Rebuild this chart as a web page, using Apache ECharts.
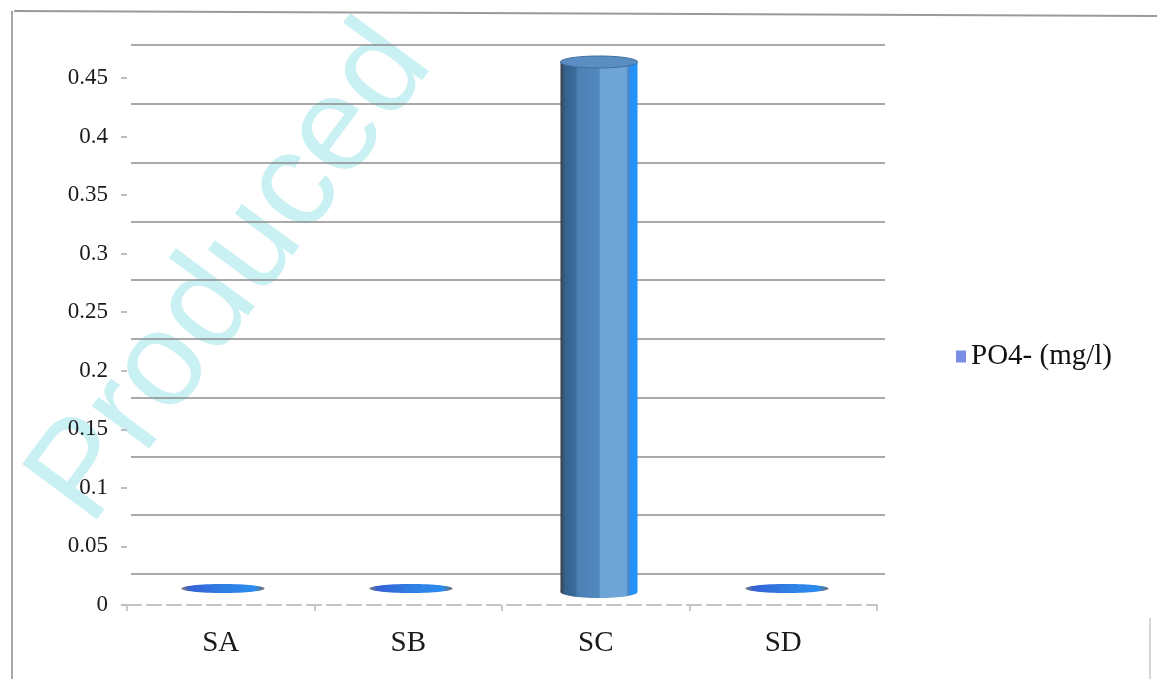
<!DOCTYPE html>
<html>
<head>
<meta charset="utf-8">
<script src="https://cdn.jsdelivr.net/npm/echarts@6/dist/echarts.min.js"></script>
<style>
  html, body { margin: 0; padding: 0; background: #fff; }
  #chart { width: 1157px; height: 679px; }
</style>
</head>
<body>
<div id="chart"></div>
<script>
// Phosphate concentration per sampling station
const categories = ['SA', 'SB', 'SC', 'SD'];
const po4Values = [0.003, 0.003, 0.45, 0.003];
const seriesName = 'PO4- (mg/l)';
const yMax = 0.45;
const yStep = 0.05;

const serif = '"Liberation Serif", "DejaVu Serif", serif';

const chart = echarts.init(document.getElementById('chart'));

// Cylinder drawn at mid depth of the 3D box
function renderCylinder(params, api) {
  const idx = api.value(0);
  const val = api.value(1);
  const base = api.coord([idx, 0]);
  const top = api.coord([idx, val]);
  const w = api.size([1, 0])[0] * 0.41;
  const cx = base[0];
  const x0 = cx - w / 2;
  const ry = 6;
  const h = base[1] - top[1];

  if (h < ry * 1.5) {
    // near-zero value: flat disc
    return {
      type: 'ellipse',
      shape: { cx: cx, cy: top[1], rx: w / 2 + 3, ry: 4.5 },
      style: {
        fill: new echarts.graphic.LinearGradient(0, 0, 1, 0, [
          { offset: 0, color: '#7a7a7a' },
          { offset: 0.1, color: '#3561d6' },
          { offset: 0.5, color: '#2f7fe4' },
          { offset: 0.88, color: '#2a8cee' },
          { offset: 1, color: '#6f6f6f' }
        ])
      }
    };
  }

  const bodyFill = new echarts.graphic.LinearGradient(0, 0, 1, 0, [
    { offset: 0, color: '#3a3f48' },
    { offset: 0.06, color: '#35628e' },
    { offset: 0.2, color: '#3b6c9c' },
    { offset: 0.22, color: '#4c80b4' },
    { offset: 0.5, color: '#5289bf' },
    { offset: 0.52, color: '#6fa4d6' },
    { offset: 0.85, color: '#6fa5d8' },
    { offset: 0.88, color: '#4f86bd' },
    { offset: 0.9, color: '#2a8ef2' },
    { offset: 1, color: '#2196ff' }
  ]);

  return {
    type: 'group',
    children: [
      {
        type: 'ellipse',
        shape: { cx: cx, cy: base[1], rx: w / 2, ry: ry },
        style: { fill: bodyFill }
      },
      {
        type: 'rect',
        shape: { x: x0, y: top[1], width: w, height: h },
        style: { fill: bodyFill }
      },
      {
        type: 'ellipse',
        shape: { cx: cx, cy: top[1], rx: w / 2, ry: ry },
        style: { fill: '#5a8ec2', stroke: '#3f6f9f', lineWidth: 1 }
      }
    ]
  };
}

const option = {
  backgroundColor: '#ffffff',
  animation: false,
  legend: {
    data: [{ name: seriesName, icon: 'rect', itemStyle: { color: '#7b8ee6' } }],
    left: 951,
    top: 337,
    itemWidth: 10,
    itemHeight: 12,
    itemGap: 3,
    textStyle: { fontFamily: serif, fontSize: 29, color: '#111' }
  },
  grid: [
    // front plane: value labels and category axis
    { left: 127, right: 280, top: 78, bottom: 74 },
    // back wall: gridlines
    { left: 131, right: 272, top: 45, bottom: 105 },
    // mid depth: cylinders
    { left: 129, right: 276, top: 62, bottom: 87 }
  ],
  xAxis: [
    {
      gridIndex: 0,
      type: 'category',
      data: categories,
      boundaryGap: true,
      axisLine: { show: true, lineStyle: { color: '#c4c4c4', width: 2, type: [14, 6] } },
      axisTick: { show: true, length: 6, lineStyle: { color: '#c8c8c8', width: 2 } },
      axisLabel: { fontFamily: serif, fontSize: 29, color: '#1a1a1a', margin: 24 }
    },
    {
      gridIndex: 1, type: 'category', data: categories, show: false
    },
    {
      gridIndex: 2, type: 'category', data: categories, show: false
    }
  ],
  yAxis: [
    {
      gridIndex: 0,
      type: 'value',
      min: 0,
      max: yMax,
      interval: yStep,
      axisLine: { show: false },
      axisTick: { show: true, length: 6, lineStyle: { color: '#bdbdbd', width: 2 } },
      splitLine: { show: false },
      axisLabel: {
        fontFamily: serif, fontSize: 23, color: '#1a1a1a', margin: 19,
        formatter: v => String(Math.round(v * 100) / 100)
      }
    },
    {
      gridIndex: 1,
      type: 'value',
      min: 0,
      max: yMax,
      interval: yStep,
      axisLine: { show: false },
      axisTick: { show: false },
      axisLabel: { show: false },
      splitLine: { show: true, lineStyle: { color: '#8c8c8c', width: 1.5 } }
    },
    {
      gridIndex: 2, type: 'value', min: 0, max: yMax, show: false, splitLine: { show: false }
    }
  ],
  series: [
    {
      name: seriesName,
      type: 'custom',
      xAxisIndex: 2,
      yAxisIndex: 2,
      itemStyle: { color: '#7b8ee6' },
      renderItem: renderCylinder,
      data: po4Values.map((v, i) => [i, v]),
      z: 5
    }
  ],
  graphic: [
    // stamp, kept behind the gridlines
    {
      type: 'text',
      x: 6,
      y: 466,
      rotation: Math.PI * 0.297,
      z: -10,
      style: {
        text: 'Produced',
        fontFamily: '"Liberation Sans", Arial, sans-serif',
        fontSize: 135,
        fill: '#c9f0f3'
      }
    },
    // outer frame
    { type: 'line', shape: { x1: 14, y1: 11, x2: 1157, y2: 16 }, style: { stroke: '#9a9a9a', lineWidth: 2 } },
    { type: 'line', shape: { x1: 12, y1: 11, x2: 12, y2: 679 }, style: { stroke: '#a8a8a8', lineWidth: 2 } },
    { type: 'line', shape: { x1: 1150, y1: 618, x2: 1150, y2: 679 }, style: { stroke: '#c8c8c8', lineWidth: 1.5 } }
  ]
};

chart.setOption(option);
</script>
</body>
</html>
